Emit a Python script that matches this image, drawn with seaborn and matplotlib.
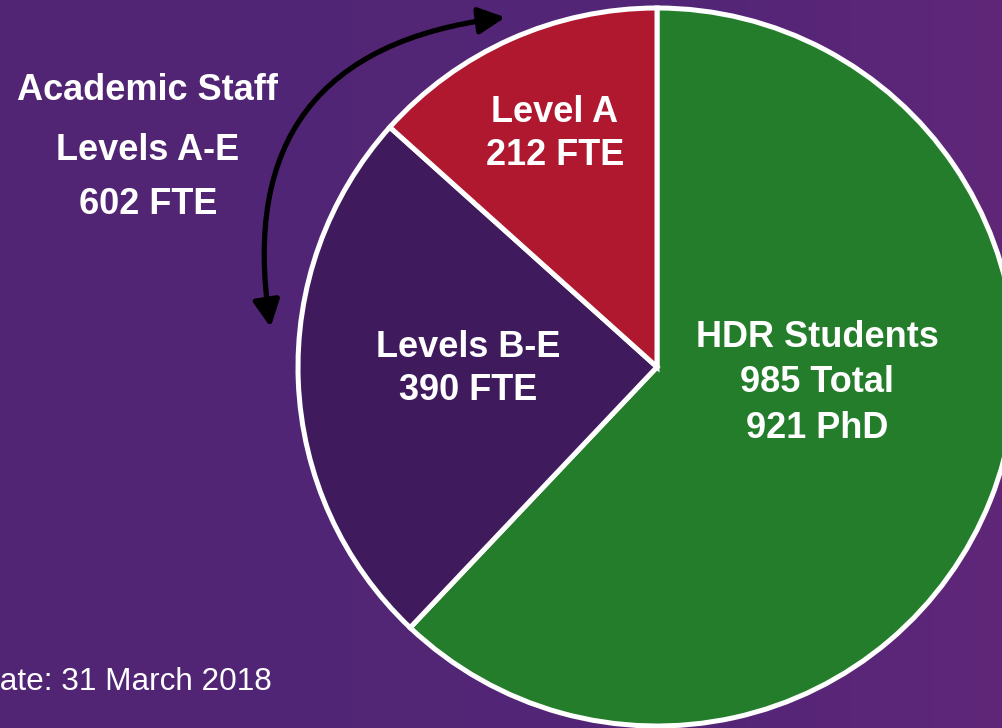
import numpy as np
import matplotlib
matplotlib.use("Agg")
import matplotlib.pyplot as plt
import seaborn as sns
from matplotlib.patches import FancyArrowPatch
from matplotlib.colors import to_rgb

# chart data
groups = ["HDR Students", "Levels B-E", "Level A"]
values = [985, 390, 212]
colours = ["#237d2b", "#3f1a5c", "#b01830"]
slice_labels = ["HDR Students\n985 Total\n921 PhD", "Levels B-E\n390 FTE", "Level A\n212 FTE"]
side_lines = ["Academic Staff", "Levels A-E", "602 FTE"]
date_note = "Date: 31 March 2018"

sns.set_style("white")
plt.rcParams["font.family"] = ["Liberation Sans", "DejaVu Sans"]

W, H = 1002, 728
fig = plt.figure(figsize=(W / 100, H / 100), dpi=100)
ax = fig.add_axes([0, 0, 1, 1])

# purple background, a bit lighter on the right
xs = np.linspace(0, 1, 400)
c0, c1, c2 = np.array(to_rgb("#512574")), np.array(to_rgb("#532577")), np.array(to_rgb("#602779"))
grad = np.array([np.interp(xs, [0, 0.7, 1.0], [c0[i], c1[i], c2[i]]) for i in range(3)]).T
ax.imshow(grad[np.newaxis, :, :], extent=[0, W, 0, H], aspect="auto", zorder=0)

wedges, _ = ax.pie(values, colors=colours, startangle=90, counterclock=False,
                   center=(657, 361), radius=359,
                   wedgeprops=dict(edgecolor="white", linewidth=3.6))
for w in wedges:
    w.set_zorder(2)

txt = dict(color="white", fontsize=26, fontweight="bold", ha="center", va="center",
           linespacing=1.38, zorder=3)
ax.text(817, H - 383, slice_labels[0], **txt)
ax.text(468, H - 369, slice_labels[1], linespacing=1.28,
        **{k: v for k, v in txt.items() if k != "linespacing"})
ax.text(555, H - 134, slice_labels[2], linespacing=1.3,
        **{k: v for k, v in txt.items() if k != "linespacing"})

for y, line in zip([90, 150, 205], side_lines):
    ax.text(148, H - y, line, **txt)

# the date sits partly off the left edge, as in the slide it was cut from
ax.text(272, H - 682, date_note, color="white", fontsize=22.7, ha="right", va="center", zorder=3)

arrow = FancyArrowPatch((271, H - 330), (508, H - 17), arrowstyle="<|-|>",
                        connectionstyle="arc3,rad=-0.52", mutation_scale=40,
                        lw=3.8, color="black", zorder=3)
ax.add_patch(arrow)

ax.set_xlim(0, W)
ax.set_ylim(0, H)
ax.set_aspect("auto")
ax.axis("off")

fig.savefig("out.png", dpi=100)
